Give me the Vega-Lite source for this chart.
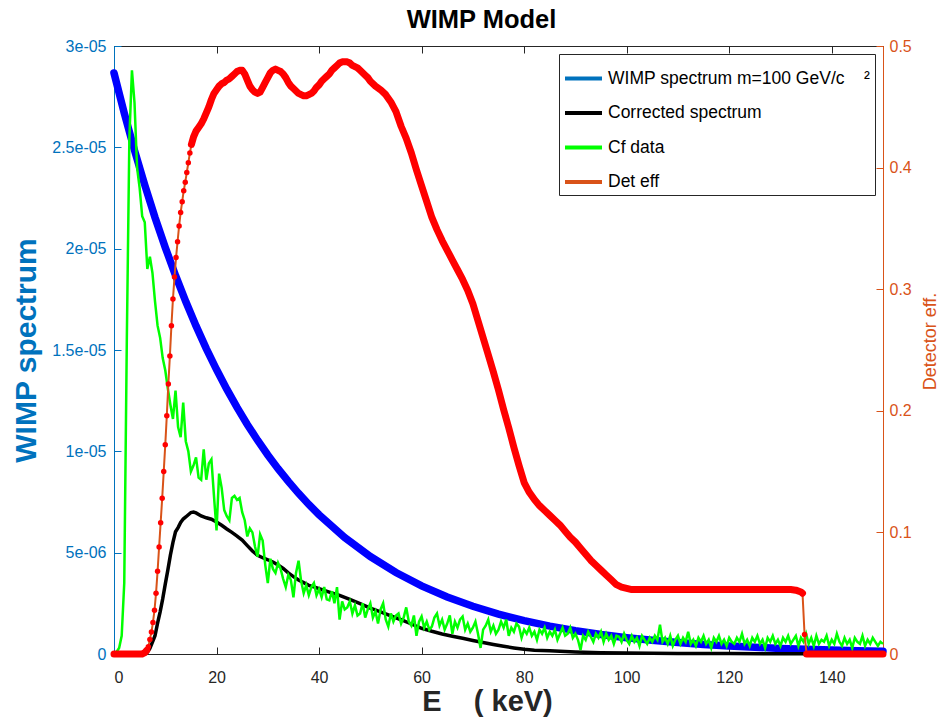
{
  "$schema": "https://vega.github.io/schema/vega-lite/v6.json",
  "width": 769,
  "height": 608,
  "autosize": {"type": "none"},
  "padding": {"left": 114, "top": 46, "right": 60, "bottom": 66},
  "title": {"text": "WIMP Model", "fontSize": 25.5, "fontWeight": "bold", "font": "Liberation Sans", "color": "#000000", "anchor": "middle", "offset": 5, "dx": -17},
  "config": {
    "font": "Liberation Sans",
    "view": {"stroke": "#262626", "strokeWidth": 1},
    "axis": {"grid": false, "labelFont": "Liberation Sans", "titleFont": "Liberation Sans"},
    "legend": {"orient": "top-right", "offset": 8, "strokeColor": "#262626", "fillColor": "#ffffff", "padding": 4, "symbolType": "stroke", "symbolStrokeWidth": 4, "symbolSize": 1369, "labelFontSize": 17.5, "labelFont": "Liberation Sans", "labelColor": "#000000", "labelOffset": 4, "rowPadding": 5.5, "labelLimit": 400, "title": null}
  },
  "datasets": {
    "wimp": [{"E":0,"y":2.867e-5},{"E":2,"y":2.669e-5},{"E":4,"y":2.485e-5},{"E":6,"y":2.314e-5},{"E":8,"y":2.154e-5},{"E":10,"y":2.006e-5},{"E":12,"y":1.868e-5},{"E":14,"y":1.739e-5},{"E":16,"y":1.619e-5},{"E":18,"y":1.507e-5},{"E":20,"y":1.4035e-5},{"E":22,"y":1.3068e-5},{"E":24,"y":1.2167e-5},{"E":26,"y":1.1328e-5},{"E":28,"y":1.0547e-5},{"E":30,"y":9.82e-6},{"E":32,"y":9.143e-6},{"E":34,"y":8.513e-6},{"E":36,"y":7.926e-6},{"E":38,"y":7.38e-6},{"E":40,"y":6.871e-6},{"E":45,"y":5.748e-6},{"E":50,"y":4.808e-6},{"E":55,"y":4.022e-6},{"E":60,"y":3.364e-6},{"E":65,"y":2.814e-6},{"E":70,"y":2.353e-6},{"E":75,"y":1.968e-6},{"E":80,"y":1.647e-6},{"E":85,"y":1.377e-6},{"E":90,"y":1.152e-6},{"E":95,"y":9.64e-7},{"E":100,"y":8.06e-7},{"E":105,"y":6.74e-7},{"E":110,"y":5.64e-7},{"E":115,"y":4.72e-7},{"E":120,"y":3.95e-7},{"E":125,"y":3.3e-7},{"E":130,"y":2.76e-7},{"E":135,"y":2.31e-7},{"E":140,"y":1.93e-7},{"E":145,"y":1.62e-7},{"E":150,"y":1.35e-7}],
    "corr": [{"E":0,"y":0},{"E":6,"y":0},{"E":6.5,"y":0.09e-6},{"E":7,"y":0.27e-6},{"E":7.5,"y":0.59e-6},{"E":8,"y":0.9e-6},{"E":8.5,"y":1.52e-6},{"E":9,"y":2.08e-6},{"E":9.5,"y":2.72e-6},{"E":10,"y":3.45e-6},{"E":10.5,"y":4.14e-6},{"E":11,"y":4.88e-6},{"E":11.5,"y":5.51e-6},{"E":12,"y":6.03e-6},{"E":12.5,"y":6.24e-6},{"E":13,"y":6.49e-6},{"E":13.5,"y":6.66e-6},{"E":14,"y":6.76e-6},{"E":14.5,"y":6.87e-6},{"E":15,"y":6.98e-6},{"E":15.5,"y":7.0e-6},{"E":16,"y":6.96e-6},{"E":17,"y":6.81e-6},{"E":18,"y":6.72e-6},{"E":19,"y":6.65e-6},{"E":20,"y":6.51e-6},{"E":21,"y":6.35e-6},{"E":22,"y":6.17e-6},{"E":23,"y":6.0e-6},{"E":24,"y":5.82e-6},{"E":25,"y":5.62e-6},{"E":26,"y":5.35e-6},{"E":27,"y":5.08e-6},{"E":28,"y":4.87e-6},{"E":29,"y":4.75e-6},{"E":30,"y":4.65e-6},{"E":31,"y":4.54e-6},{"E":32,"y":4.39e-6},{"E":33,"y":4.22e-6},{"E":34,"y":4.0e-6},{"E":35,"y":3.82e-6},{"E":36,"y":3.65e-6},{"E":37,"y":3.52e-6},{"E":38,"y":3.39e-6},{"E":39,"y":3.31e-6},{"E":40,"y":3.22e-6},{"E":42,"y":3.05e-6},{"E":44,"y":2.89e-6},{"E":46,"y":2.69e-6},{"E":48,"y":2.48e-6},{"E":50,"y":2.26e-6},{"E":52,"y":2.08e-6},{"E":54,"y":1.88e-6},{"E":56,"y":1.69e-6},{"E":58,"y":1.48e-6},{"E":60,"y":1.27e-6},{"E":62,"y":1.12e-6},{"E":64,"y":0.99e-6},{"E":66,"y":0.88e-6},{"E":68,"y":0.78e-6},{"E":70,"y":0.67e-6},{"E":72,"y":0.57e-6},{"E":74,"y":0.47e-6},{"E":76,"y":0.38e-6},{"E":78,"y":0.3e-6},{"E":80,"y":0.23e-6},{"E":82,"y":0.19e-6},{"E":85,"y":0.156e-6},{"E":90,"y":0.101e-6},{"E":95,"y":0.066e-6},{"E":100,"y":0.044e-6},{"E":110,"y":0.03e-6},{"E":120,"y":0.021e-6},{"E":130,"y":0.015e-6},{"E":134.3,"y":0.012e-6},{"E":134.7,"y":0.004e-6},{"E":135.1,"y":0},{"E":150,"y":0}],
    "cf": [{"E":0,"y":0},{"E":0.5,"y":0.1e-6},{"E":1,"y":0.3e-6},{"E":1.5,"y":0.9e-6},{"E":2,"y":3.5e-6},{"E":2.5,"y":15.5e-6},{"E":3,"y":25.5e-6},{"E":3.5,"y":28.8e-6},{"E":4,"y":27.2e-6},{"E":4.5,"y":24e-6},{"E":5,"y":23e-6},{"E":5.5,"y":21.6e-6},{"E":6,"y":21.3e-6},{"E":6.5,"y":19e-6},{"E":7,"y":19.6e-6},{"E":7.5,"y":18.8e-6},{"E":8,"y":17.4e-6},{"E":8.5,"y":16.2e-6},{"E":9,"y":15.6e-6},{"E":9.5,"y":14.6e-6},{"E":10,"y":14e-6},{"E":10.5,"y":13.1e-6},{"E":11,"y":12.3e-6},{"E":11.5,"y":11.6e-6},{"E":12,"y":13e-6},{"E":12.5,"y":11.2e-6},{"E":13,"y":10.7e-6},{"E":13.5,"y":12.4e-6},{"E":14,"y":10.5e-6},{"E":14.5,"y":10e-6},{"E":15,"y":9e-6},{"E":15.5,"y":9.3e-6},{"E":16,"y":9.7e-6},{"E":16.5,"y":8.7e-6},{"E":17,"y":8.6e-6},{"E":17.5,"y":10.1e-6},{"E":18,"y":8.6e-6},{"E":18.5,"y":9.4e-6},{"E":19,"y":9.6e-6},{"E":19.5,"y":7.8e-6},{"E":20,"y":6.1e-6},{"E":20.5,"y":8.9e-6},{"E":21,"y":8.2e-6},{"E":21.5,"y":7.1e-6},{"E":22,"y":6.8e-6},{"E":22.5,"y":6.6e-6},{"E":23,"y":7.7e-6},{"E":23.5,"y":7.8e-6},{"E":24,"y":7.6e-6},{"E":24.5,"y":7.7e-6},{"E":25,"y":7e-6},{"E":25.5,"y":6.6e-6},{"E":26,"y":5.8e-6},{"E":26.5,"y":6.2e-6},{"E":27,"y":6e-6},{"E":27.5,"y":5.3e-6},{"E":28,"y":4.8e-6},{"E":28.5,"y":5.9e-6},{"E":29,"y":5.6e-6},{"E":29.5,"y":4.4e-6},{"E":30,"y":3.5e-6},{"E":30.5,"y":4.7e-6},{"E":31,"y":4.2e-6},{"E":31.5,"y":4e-6},{"E":32,"y":4.5e-6},{"E":32.5,"y":4.2e-6},{"E":33,"y":3.7e-6},{"E":33.5,"y":3.3e-6},{"E":34,"y":3.9e-6},{"E":34.5,"y":3.65e-6},{"E":35,"y":2.8e-6},{"E":35.5,"y":4e-6},{"E":36,"y":4.6e-6},{"E":36.5,"y":3.6e-6},{"E":37,"y":3e-6},{"E":37.5,"y":3.4e-6},{"E":38,"y":2.9e-6},{"E":38.5,"y":3.3e-6},{"E":39,"y":3.5e-6},{"E":39.5,"y":2.9e-6},{"E":40,"y":3.2e-6},{"E":40.5,"y":2.8e-6},{"E":41,"y":3.3e-6},{"E":41.5,"y":2.7e-6},{"E":42,"y":2.65e-6},{"E":42.5,"y":3.1e-6},{"E":43,"y":2.5e-6},{"E":43.5,"y":3.3e-6},{"E":44,"y":1.7e-6},{"E":44.5,"y":2.6e-6},{"E":45,"y":2.2e-6},{"E":45.5,"y":2.3e-6},{"E":46,"y":2.6e-6},{"E":46.5,"y":2e-6},{"E":47,"y":2.4e-6},{"E":47.5,"y":1.9e-6},{"E":48,"y":2e-6},{"E":48.5,"y":2.5e-6},{"E":49,"y":1.8e-6},{"E":49.5,"y":2.2e-6},{"E":50,"y":2.5e-6},{"E":50.5,"y":1.8e-6},{"E":51,"y":2.1e-6},{"E":51.5,"y":1.5e-6},{"E":52,"y":2.2e-6},{"E":52.5,"y":2.5e-6},{"E":53,"y":1.7e-6},{"E":53.5,"y":1.35e-6},{"E":54,"y":2e-6},{"E":54.5,"y":1.6e-6},{"E":55,"y":1.9e-6},{"E":55.5,"y":2e-6},{"E":56,"y":1.5e-6},{"E":56.5,"y":1.8e-6},{"E":57,"y":2.3e-6},{"E":57.5,"y":1.6e-6},{"E":58,"y":1.4e-6},{"E":58.5,"y":1.9e-6},{"E":59,"y":0.9e-6},{"E":59.5,"y":1.6e-6},{"E":60,"y":1.85e-6},{"E":60.5,"y":1.3e-6},{"E":61,"y":1.6e-6},{"E":61.5,"y":1.2e-6},{"E":62,"y":1.35e-6},{"E":62.5,"y":1.8e-6},{"E":63,"y":2e-6},{"E":63.5,"y":1.4e-6},{"E":64,"y":1.7e-6},{"E":64.5,"y":1.2e-6},{"E":65,"y":1.5e-6},{"E":65.5,"y":1.9e-6},{"E":66,"y":1e-6},{"E":66.5,"y":1.6e-6},{"E":67,"y":1.3e-6},{"E":67.5,"y":1.7e-6},{"E":68,"y":1.85e-6},{"E":68.5,"y":1.2e-6},{"E":69,"y":1.5e-6},{"E":69.5,"y":1.1e-6},{"E":70,"y":1.3e-6},{"E":70.5,"y":1.6e-6},{"E":71,"y":1e-6},{"E":71.5,"y":0.3e-6},{"E":72,"y":1.2e-6},{"E":72.5,"y":1.4e-6},{"E":73,"y":1.7e-6},{"E":73.5,"y":1.1e-6},{"E":74,"y":1.4e-6},{"E":74.5,"y":1e-6},{"E":75,"y":1.2e-6},{"E":75.5,"y":1.6e-6},{"E":76,"y":1.3e-6},{"E":76.5,"y":1.7e-6},{"E":77,"y":0.9e-6},{"E":77.5,"y":1.3e-6},{"E":78,"y":1.1e-6},{"E":78.5,"y":1.5e-6},{"E":79,"y":1.35e-6},{"E":79.5,"y":0.8e-6},{"E":80,"y":1.2e-6},{"E":80.5,"y":1e-6},{"E":81,"y":1.3e-6},{"E":81.5,"y":0.9e-6},{"E":82,"y":1.1e-6},{"E":82.5,"y":0.7e-6},{"E":83,"y":1.2e-6},{"E":83.5,"y":1e-6},{"E":84,"y":1.3e-6},{"E":84.5,"y":0.8e-6},{"E":85,"y":1.1e-6},{"E":85.5,"y":0.9e-6},{"E":86,"y":1.2e-6},{"E":86.5,"y":0.7e-6},{"E":87,"y":1e-6},{"E":87.5,"y":1.3e-6},{"E":88,"y":0.9e-6},{"E":88.5,"y":1e-6},{"E":89,"y":1.3e-6},{"E":89.5,"y":0.8e-6},{"E":90,"y":1e-6},{"E":90.5,"y":0.7e-6},{"E":91,"y":0.2e-6},{"E":91.5,"y":0.9e-6},{"E":92,"y":0.7e-6},{"E":92.5,"y":1.1e-6},{"E":93,"y":0.85e-6},{"E":93.5,"y":0.6e-6},{"E":94,"y":1e-6},{"E":94.5,"y":0.8e-6},{"E":95,"y":1.1e-6},{"E":95.5,"y":0.6e-6},{"E":96,"y":1e-6},{"E":96.5,"y":0.7e-6},{"E":97,"y":0.9e-6},{"E":97.5,"y":0.5e-6},{"E":98,"y":0.9e-6},{"E":98.5,"y":0.85e-6},{"E":99,"y":0.6e-6},{"E":99.5,"y":1e-6},{"E":100,"y":0.7e-6},{"E":100.5,"y":0.5e-6},{"E":101,"y":0.9e-6},{"E":101.5,"y":0.6e-6},{"E":102,"y":0.8e-6},{"E":102.5,"y":0.4e-6},{"E":103,"y":0.9e-6},{"E":103.5,"y":0.7e-6},{"E":104,"y":0.5e-6},{"E":104.5,"y":0.8e-6},{"E":105,"y":0.6e-6},{"E":105.5,"y":0.9e-6},{"E":106,"y":0.7e-6},{"E":106.5,"y":1.45e-6},{"E":107,"y":0.6e-6},{"E":107.5,"y":0.8e-6},{"E":108,"y":0.5e-6},{"E":108.5,"y":0.9e-6},{"E":109,"y":0.4e-6},{"E":109.5,"y":0.7e-6},{"E":110,"y":0.9e-6},{"E":110.5,"y":0.5e-6},{"E":111,"y":0.8e-6},{"E":111.5,"y":0.6e-6},{"E":112,"y":1.1e-6},{"E":112.5,"y":0.5e-6},{"E":113,"y":0.7e-6},{"E":113.5,"y":0.4e-6},{"E":114,"y":0.8e-6},{"E":114.5,"y":0.6e-6},{"E":115,"y":0.9e-6},{"E":115.5,"y":0.5e-6},{"E":116,"y":0.7e-6},{"E":116.5,"y":0.3e-6},{"E":117,"y":0.8e-6},{"E":117.5,"y":0.6e-6},{"E":118,"y":0.9e-6},{"E":118.5,"y":0.5e-6},{"E":119,"y":0.7e-6},{"E":119.5,"y":0.4e-6},{"E":120,"y":0.8e-6},{"E":120.5,"y":0.6e-6},{"E":121,"y":0.5e-6},{"E":121.5,"y":0.8e-6},{"E":122,"y":0.6e-6},{"E":122.5,"y":1e-6},{"E":123,"y":0.5e-6},{"E":123.5,"y":0.7e-6},{"E":124,"y":0.4e-6},{"E":124.5,"y":0.8e-6},{"E":125,"y":0.6e-6},{"E":125.5,"y":0.9e-6},{"E":126,"y":0.5e-6},{"E":126.5,"y":0.7e-6},{"E":127,"y":0.3e-6},{"E":127.5,"y":0.8e-6},{"E":128,"y":0.6e-6},{"E":128.5,"y":0.9e-6},{"E":129,"y":0.5e-6},{"E":129.5,"y":0.7e-6},{"E":130,"y":0.4e-6},{"E":130.5,"y":0.8e-6},{"E":131,"y":0.6e-6},{"E":131.5,"y":0.9e-6},{"E":132,"y":0.5e-6},{"E":132.5,"y":0.7e-6},{"E":133,"y":0.9e-6},{"E":133.5,"y":0.4e-6},{"E":134,"y":0.8e-6},{"E":134.5,"y":0.6e-6},{"E":135,"y":1e-6},{"E":135.5,"y":0.5e-6},{"E":136,"y":0.8e-6},{"E":136.5,"y":0.4e-6},{"E":137,"y":0.9e-6},{"E":137.5,"y":0.5e-6},{"E":138,"y":0.7e-6},{"E":138.5,"y":0.6e-6},{"E":139,"y":0.9e-6},{"E":139.5,"y":0.4e-6},{"E":140,"y":0.7e-6},{"E":140.5,"y":0.5e-6},{"E":141,"y":1e-6},{"E":141.5,"y":0.6e-6},{"E":142,"y":0.4e-6},{"E":142.5,"y":0.8e-6},{"E":143,"y":0.5e-6},{"E":143.5,"y":0.7e-6},{"E":144,"y":0.3e-6},{"E":144.5,"y":0.8e-6},{"E":145,"y":0.6e-6},{"E":145.5,"y":0.5e-6},{"E":146,"y":0.9e-6},{"E":146.5,"y":0.4e-6},{"E":147,"y":0.7e-6},{"E":147.5,"y":0.5e-6},{"E":148,"y":0.8e-6},{"E":148.5,"y":0.6e-6},{"E":149,"y":0.4e-6},{"E":149.5,"y":0.6e-6},{"E":150,"y":0.5e-6}],
    "eff": [{"E":0,"y":0},{"E":1,"y":0},{"E":2,"y":0},{"E":3,"y":0},{"E":4,"y":0},{"E":5,"y":0},{"E":5.5,"y":0},{"E":6,"y":0.001},{"E":6.4,"y":0.003},{"E":6.7,"y":0.006},{"E":7,"y":0.012},{"E":7.3,"y":0.018},{"E":7.6,"y":0.026},{"E":7.9,"y":0.036},{"E":8.2,"y":0.05},{"E":8.5,"y":0.068},{"E":8.8,"y":0.088},{"E":9.1,"y":0.108},{"E":9.4,"y":0.128},{"E":9.7,"y":0.15},{"E":10,"y":0.172},{"E":10.3,"y":0.196},{"E":10.6,"y":0.222},{"E":10.9,"y":0.245},{"E":11.2,"y":0.27},{"E":11.5,"y":0.292},{"E":11.8,"y":0.31},{"E":12.1,"y":0.326},{"E":12.4,"y":0.339},{"E":12.7,"y":0.352},{"E":13,"y":0.363},{"E":13.3,"y":0.372},{"E":13.6,"y":0.381},{"E":13.9,"y":0.388},{"E":14.2,"y":0.396},{"E":14.5,"y":0.404},{"E":14.8,"y":0.412},{"E":15.1,"y":0.419},{"E":15.5,"y":0.425},{"E":16,"y":0.43},{"E":16.5,"y":0.433},{"E":17,"y":0.436},{"E":17.5,"y":0.44},{"E":18,"y":0.445},{"E":18.5,"y":0.45},{"E":19,"y":0.456},{"E":19.5,"y":0.461},{"E":20,"y":0.464},{"E":20.5,"y":0.467},{"E":21,"y":0.469},{"E":21.5,"y":0.47},{"E":22,"y":0.472},{"E":22.5,"y":0.473},{"E":23,"y":0.475},{"E":23.5,"y":0.477},{"E":24,"y":0.479},{"E":24.5,"y":0.48},{"E":25,"y":0.48},{"E":25.5,"y":0.477},{"E":26,"y":0.472},{"E":26.5,"y":0.467},{"E":27,"y":0.464},{"E":27.5,"y":0.462},{"E":28,"y":0.461},{"E":28.5,"y":0.462},{"E":29,"y":0.466},{"E":29.5,"y":0.47},{"E":30,"y":0.474},{"E":30.5,"y":0.478},{"E":31,"y":0.48},{"E":31.5,"y":0.481},{"E":32,"y":0.48},{"E":32.5,"y":0.479},{"E":33,"y":0.477},{"E":33.5,"y":0.474},{"E":34,"y":0.47},{"E":34.5,"y":0.467},{"E":35,"y":0.465},{"E":35.5,"y":0.463},{"E":36,"y":0.461},{"E":36.5,"y":0.46},{"E":37,"y":0.459},{"E":37.5,"y":0.459},{"E":38,"y":0.46},{"E":38.5,"y":0.461},{"E":39,"y":0.463},{"E":39.5,"y":0.466},{"E":40,"y":0.468},{"E":40.5,"y":0.471},{"E":41,"y":0.473},{"E":41.5,"y":0.475},{"E":42,"y":0.477},{"E":42.5,"y":0.48},{"E":43,"y":0.482},{"E":43.5,"y":0.484},{"E":44,"y":0.486},{"E":44.5,"y":0.487},{"E":45,"y":0.487},{"E":45.5,"y":0.487},{"E":46,"y":0.486},{"E":46.5,"y":0.484},{"E":47,"y":0.483},{"E":47.5,"y":0.482},{"E":48,"y":0.48},{"E":48.5,"y":0.478},{"E":49,"y":0.476},{"E":49.5,"y":0.474},{"E":50,"y":0.471},{"E":51,"y":0.467},{"E":52,"y":0.464},{"E":53,"y":0.46},{"E":54,"y":0.454},{"E":55,"y":0.446},{"E":56,"y":0.434},{"E":57,"y":0.424},{"E":58,"y":0.412},{"E":59,"y":0.398},{"E":60,"y":0.385},{"E":61,"y":0.372},{"E":62,"y":0.359},{"E":63,"y":0.349},{"E":64,"y":0.34},{"E":65,"y":0.332},{"E":66,"y":0.324},{"E":67,"y":0.316},{"E":68,"y":0.308},{"E":69,"y":0.299},{"E":70,"y":0.288},{"E":71,"y":0.274},{"E":72,"y":0.26},{"E":73,"y":0.246},{"E":74,"y":0.232},{"E":75,"y":0.217},{"E":76,"y":0.201},{"E":77,"y":0.186},{"E":78,"y":0.17},{"E":79,"y":0.155},{"E":80,"y":0.141},{"E":81,"y":0.133},{"E":82,"y":0.127},{"E":83,"y":0.122},{"E":84,"y":0.118},{"E":85,"y":0.114},{"E":86,"y":0.11},{"E":87,"y":0.106},{"E":88,"y":0.101},{"E":89,"y":0.096},{"E":90,"y":0.092},{"E":91,"y":0.087},{"E":92,"y":0.082},{"E":93,"y":0.077},{"E":94,"y":0.073},{"E":95,"y":0.069},{"E":96,"y":0.065},{"E":97,"y":0.061},{"E":98,"y":0.057},{"E":99,"y":0.055},{"E":100,"y":0.054},{"E":101,"y":0.053},{"E":104,"y":0.053},{"E":108,"y":0.053},{"E":112,"y":0.053},{"E":116,"y":0.053},{"E":120,"y":0.053},{"E":124,"y":0.053},{"E":128,"y":0.053},{"E":132,"y":0.053},{"E":133,"y":0.0525},{"E":134,"y":0.051},{"E":134.3,"y":0.05},{"E":134.7,"y":0.016},{"E":135.1,"y":0},{"E":136,"y":0},{"E":138,"y":0},{"E":140,"y":0},{"E":142,"y":0},{"E":144,"y":0},{"E":146,"y":0},{"E":148,"y":0},{"E":150,"y":0}]
  },
  "layer": [
    {
      "encoding": {
        "x": {"field": "E", "type": "quantitative", "scale": {"domain": [0, 150], "nice": false, "zero": false},
          "axis": {"orient": "bottom", "title": "E\u00a0\u00a0\u00a0\u00a0( keV)", "titleX": 373, "values": [0, 20, 40, 60, 80, 100, 120, 140], "tickSize": -7, "labelPadding": 22, "domainColor": "#262626", "tickColor": "#262626", "labelColor": "#262626", "titleColor": "#262626", "labelFontSize": 16, "titleFontSize": 29, "titleFontWeight": "bold", "titlePadding": 2}},
        "y": {"field": "y", "type": "quantitative", "scale": {"domain": [0, 3e-5], "nice": false, "zero": false},
          "axis": {"orient": "left", "title": "WIMP spectrum", "values": [0, 5e-6, 1e-5, 1.5e-5, 2e-5, 2.5e-5, 3e-5],
            "labelExpr": "round(datum.value*1e7)==0 ? '0' : round(datum.value*1e7)==50 ? '5e-06' : round(datum.value*1e7)==100 ? '1e-05' : round(datum.value*1e7)==150 ? '1.5e-05' : round(datum.value*1e7)==200 ? '2e-05' : round(datum.value*1e7)==250 ? '2.5e-05' : '3e-05'",
            "tickSize": -7, "labelPadding": 15, "domainColor": "#0072BD", "tickColor": "#0072BD", "labelColor": "#0072BD", "titleColor": "#0072BD", "labelFontSize": 16, "titleFontSize": 30, "titleFontWeight": "bold", "titlePadding": 10}}
      },
      "layer": [
        {"data": {"name": "wimp"}, "mark": {"type": "line", "strokeWidth": 1},
         "encoding": {"color": {"datum": "WIMP spectrum m=100 GeV/c\u00a0\u00a0\u00a0\u00a0\u00b2\u00a0\u00a0\u00a0\u00a0\u00a0", "type": "nominal", "scale": {"domain": ["WIMP spectrum m=100 GeV/c\u00a0\u00a0\u00a0\u00a0\u00b2\u00a0\u00a0\u00a0\u00a0\u00a0", "Corrected spectrum", "Cf data", "Det eff"], "range": ["#0072BD", "#000000", "#00FF00", "#D95319"]}}}},
        {"data": {"name": "wimp"}, "mark": {"type": "line", "strokeWidth": 7.5, "color": "#0000FF", "strokeCap": "round"}, "encoding": {}},
        {"data": {"name": "corr"}, "mark": {"type": "line", "strokeWidth": 3.5},
         "encoding": {"color": {"datum": "Corrected spectrum", "type": "nominal"}}},
        {"data": {"name": "cf"}, "mark": {"type": "line", "strokeWidth": 2.5},
         "encoding": {"color": {"datum": "Cf data", "type": "nominal"}}}
      ]
    },
    {
      "encoding": {
        "x": {"field": "E", "type": "quantitative", "scale": {"domain": [0, 150], "nice": false, "zero": false},
          "axis": {"orient": "top", "labels": false, "title": null, "values": [0, 20, 40, 60, 80, 100, 120, 140], "tickSize": -7, "domainColor": "#262626", "tickColor": "#262626"}},
        "y": {"field": "y", "type": "quantitative", "scale": {"domain": [0, 0.5], "nice": false, "zero": false},
          "axis": {"orient": "right", "title": "Detector eff.", "values": [0, 0.1, 0.2, 0.3, 0.4, 0.5], "labelExpr": "datum.value == 0 ? '0' : format(datum.value, '.1f')", "tickSize": -7, "labelPadding": 13, "domainColor": "#D95319", "tickColor": "#D95319", "labelColor": "#D95319", "titleColor": "#D95319", "labelFontSize": 16, "titleFontSize": 18, "titleFontWeight": "normal", "titleAngle": 270, "titlePadding": 28, "titleY": 295}}
      },
      "layer": [
        {"data": {"name": "eff"}, "mark": {"type": "line", "strokeWidth": 2},
         "encoding": {"color": {"datum": "Det eff", "type": "nominal"}}},
        {"data": {"name": "eff"}, "mark": {"type": "point", "filled": true, "size": 30, "color": "#FF0000", "opacity": 1}, "encoding": {}},
        {"data": {"name": "eff"}, "transform": [{"filter": "datum.E <= 6.4"}], "mark": {"type": "line", "strokeWidth": 7, "color": "#FF0000", "strokeCap": "round"}, "encoding": {}},
        {"data": {"name": "eff"}, "transform": [{"filter": "datum.E >= 15.1 && datum.E <= 134.3"}], "mark": {"type": "line", "strokeWidth": 7, "color": "#FF0000", "strokeCap": "round", "strokeJoin": "round"}, "encoding": {}},
        {"data": {"name": "eff"}, "transform": [{"filter": "datum.E >= 135.1"}], "mark": {"type": "line", "strokeWidth": 7, "color": "#FF0000", "strokeCap": "round"}, "encoding": {}}
      ]
    }
  ],
  "resolve": {"scale": {"y": "independent"}, "axis": {"x": "independent"}}
}
